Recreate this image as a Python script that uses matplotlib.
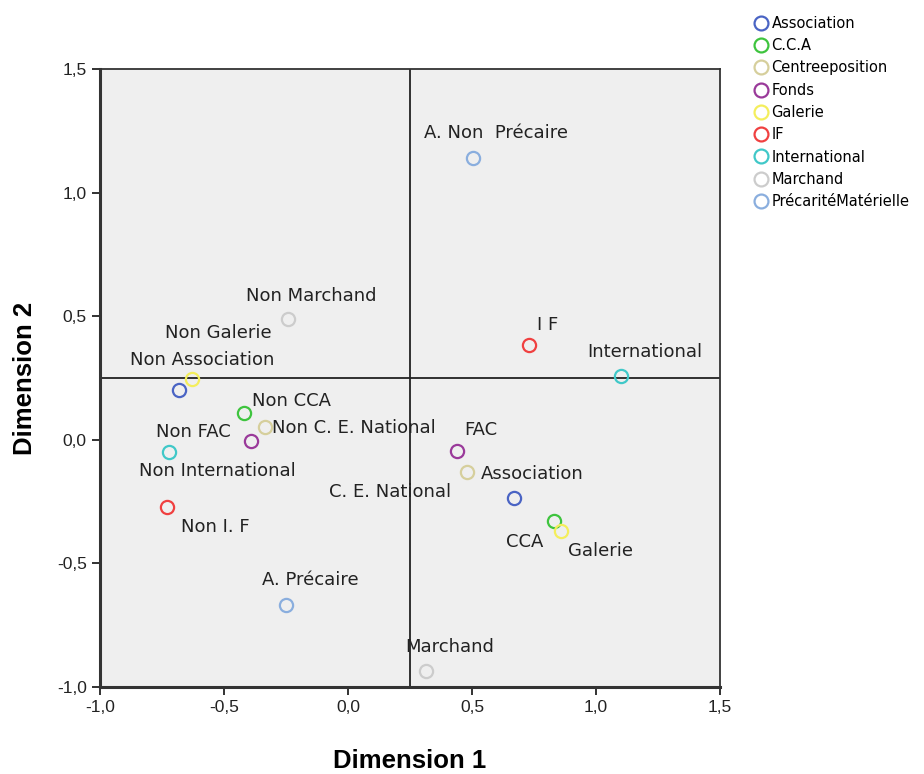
import matplotlib.pyplot as plt
from matplotlib.lines import Line2D
from matplotlib.ticker import FuncFormatter

# ── data ──────────────────────────────────────────────────────────────────────
series = ["Association", "C.C.A", "Centreeposition", "Fonds", "Galerie",
          "IF", "International", "Marchand", "PrécaritéMatérielle"]
colors = ["#4a64c4", "#3ec43e", "#d6cf9c", "#9a3a9a", "#f4ee5c",
          "#f04040", "#40c8c8", "#cccccc", "#8aaede"]

# two category points per variable: (x, y)
dim1 = [[-0.68, 0.67], [-0.42, 0.83], [-0.335, 0.48], [-0.39, 0.44], [-0.63, 0.86],
        [0.73, -0.73], [1.10, -0.72], [-0.24, 0.315], [0.505, -0.25]]
dim2 = [[0.20, -0.235], [0.11, -0.33], [0.05, -0.13], [-0.005, -0.045], [0.245, -0.37],
        [0.385, -0.27], [0.26, -0.05], [0.49, -0.935], [1.14, -0.67]]
point_labels = [["Non Association", "Association"], ["Non CCA", "CCA"],
                ["Non C. E. National", "C. E. National"], ["Non FAC", "FAC"],
                ["Non Galerie", "Galerie"], ["I F", "Non I. F"],
                ["International", "Non International"], ["Non Marchand", "Marchand"],
                ["A. Non  Précaire", "A. Précaire"]]
# label placement (pixel offsets, ha)
offsets = [[((23, 30), "center"), ((-33, 24), "left")],
           [((8, 12), "left"), ((-29, -21), "center")],
           [((7, -1), "left"), ((-16, -20), "right")],
           [((-58, 9), "center"), ((7, 21), "left")],
           [((27, 46), "center"), ((39, -20), "center")],
           [((19, 20), "center"), ((48, -20), "center")],
           [((24, 24), "center"), ((48, -19), "center")],
           [((23, 23), "center"), ((24, 24), "center")],
           [((23, 25), "center"), ((24, 25), "center")]]
ref_x, ref_y = 0.25, 0.25

xticks = [-1.0, -0.5, 0.0, 0.5, 1.0, 1.5]
yticks = [-1.0, -0.5, 0.0, 0.5, 1.0, 1.5]

# ── figure ────────────────────────────────────────────────────────────────────
plt.rcParams["font.family"] = "Liberation Sans"
W, H, DPI = 924, 774, 100
fig = plt.figure(figsize=(W / DPI, H / DPI), dpi=DPI, facecolor="white")
ax = fig.add_axes([100 / W, 1 - 687 / H, 620 / W, 618 / H])
ax.set_facecolor("#efefef")
ax.set_xlim(-1.0, 1.5)
ax.set_ylim(-1.0, 1.5)

ax.axvline(ref_x, color="#222222", lw=1.3, zorder=2)
ax.axhline(ref_y, color="#222222", lw=1.3, zorder=2)

for name, col, xs, ys, labs, offs in zip(series, colors, dim1, dim2, point_labels, offsets):
    ax.plot(xs, ys, ls="none", marker="o", ms=9.5, mfc="none", mec=col, mew=1.6, zorder=3)
    for x, y, lab, (off, ha) in zip(xs, ys, labs, offs):
        ax.annotate(lab, (x, y), xytext=off, textcoords="offset pixels",
                    ha=ha, va="center", fontsize=13, family="DejaVu Sans",
                    color="#222222", zorder=4)

ax.set_xticks(xticks)
ax.set_yticks(yticks)
fmt = FuncFormatter(lambda v, p: f"{v:.1f}".replace(".", ","))
ax.xaxis.set_major_formatter(fmt)
ax.yaxis.set_major_formatter(fmt)
ax.tick_params(direction="out", length=6, width=1.3, labelsize=12.5, colors="#222222")
for s in ax.spines.values():
    s.set_linewidth(1.3)
    s.set_color("#333333")
ax.spines["bottom"].set_linewidth(2.2)
ax.spines["left"].set_linewidth(2.2)

ax.set_xlabel("Dimension 1", fontsize=18.5, fontweight="bold", labelpad=24)
ax.set_ylabel("Dimension 2", fontsize=18.5, fontweight="bold", labelpad=14)

# legend
handles = [Line2D([], [], ls="none", marker="o", ms=10, mfc="none", mec=c, mew=1.6)
           for c in colors]
fig.legend(handles, series, loc="upper left", bbox_to_anchor=(746 / W, 1 - 10 / H),
           frameon=False, handletextpad=0.15, labelspacing=0.5,
           handlelength=1.2, borderaxespad=0, prop={"family": "DejaVu Sans", "size": 10.5})

fig.savefig("out.png", dpi=DPI, facecolor="white")
